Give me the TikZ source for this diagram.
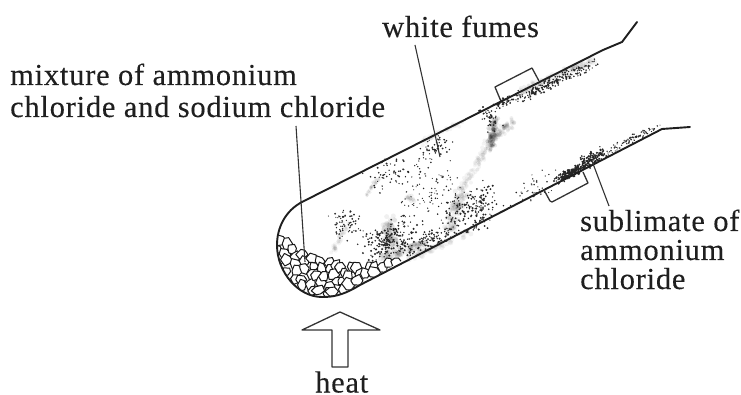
\documentclass[tikz,border=0pt]{standalone}
\usepackage{fontspec}
\setmainfont[LetterSpace=2.5,FakeBold=0.2]{Liberation Serif}
\tikzset{
  wall/.style={line width=1.9pt,line cap=round,line join=round,black!88},
  clampline/.style={line width=1.3pt,line join=round,black!80},
  leader/.style={line width=1.1pt,black!80},
  lab/.style={anchor=base west,inner sep=0pt,font=\fontsize{30.5}{30.5}\selectfont,black!88},
  cellst/.style={fill=white,draw=black!90,line width=1pt,line join=round},
}
\newcommand\specks[6]{% cx cy along across n radius
  \foreach \i in {1,...,#5}{
    \pgfmathsetmacro\spa{(rand+rand)*#3/2*1.4}
    \pgfmathsetmacro\spb{(rand+rand)*#4/2*1.4}
    \pgfmathsetmacro\spr{#6*(0.7+0.5*rnd)}
    \fill[black!85] ({#1+\spa*0.89+\spb*0.46},{#2-\spa*0.46+\spb*0.89}) circle (\spr pt);
  }}
\newcommand\smear[8]{% x1 y1 x2 y2 n radius opacity spread
  \foreach \i in {1,...,#5}{
    \pgfmathsetmacro\smt{rnd}
    \pgfmathsetmacro\smx{#1+(#3-#1)*\smt+#8*(rand+rand)/2}
    \pgfmathsetmacro\smy{#2+(#4-#2)*\smt+#8*(rand+rand)/2}
    \fill[black,opacity=#7] (\smx,\smy) circle (#6 pt);
  }}
\newcommand\cv[1]{({\cx+(3.5+4*rnd)*cos(#1)},{\cy+(3.5+4*rnd)*sin(#1)})}
\begin{document}
\begin{tikzpicture}[x=1pt,y=-1pt]
\pgfmathsetseed{4711}
\useasboundingbox (0,0) rectangle (741,395);
\fill[white] (0,0) rectangle (741,395);
% grey smears
\smear{513}{122}{492}{137}{80}{2}{.06}{5}
\smear{495}{120}{490}{148}{90}{2}{.09}{5}
\smear{492}{137}{462}{190}{90}{2}{.045}{5}
\smear{462}{190}{450}{232}{80}{2.5}{.06}{7}
\smear{388}{222}{392}{250}{80}{2.5}{.06}{8}
\smear{380}{258}{425}{245}{80}{2.5}{.06}{5}
\smear{378}{178}{366}{196}{30}{1.8}{.06}{2.5}
\smear{348}{222}{332}{252}{40}{2}{.04}{4}
\smear{408}{195}{412}{200}{14}{2}{.06}{4}
\smear{520}{92}{592}{60}{130}{2}{.05}{5}
\smear{470}{232}{410}{258}{50}{2.5}{.05}{4}
\smear{422}{142}{462}{122}{40}{2}{.04}{4}
% specks
\specks{390}{240}{24}{13}{190}{1}
\specks{430}{240}{28}{7}{100}{.95}
\specks{475}{208}{26}{17}{180}{.95}
\specks{395}{172}{24}{13}{55}{.9}
\specks{428}{192}{26}{26}{100}{.75}
\specks{345}{225}{14}{15}{65}{.85}
\specks{435}{147}{13}{8}{50}{.9}
\specks{490}{118}{8}{14}{45}{.9}
\specks{505}{101}{14}{3.5}{50}{.9}
\specks{548}{85}{32}{4}{150}{.95}
\specks{585}{69}{18}{3.5}{35}{.8}
\specks{572}{172}{15}{3.5}{190}{1.05}
\specks{592}{158}{12}{5}{120}{.95}
\specks{630}{140}{26}{3}{90}{.75}
\specks{535}{186}{24}{10}{40}{.75}
% gravel, clipped by the tube
\begin{scope}
  \clip (302,202) .. controls (285,211) and (277,228) .. (277,245)
        .. controls (277,272) and (298,297) .. (322,297)
        .. controls (332,297) and (342,296) .. (360,285) -- (420,250) -- (420,200) -- cycle;
  \foreach \x/\t/\b/\n in {279/238/262/2,287/240/274/3,295/244/284/4,303/250/290/4,311/254/294/4,319/257/296/4,327/259/296/4,335/261/294/3,343/262/291/3,351/264/287/2,359/265/283/2,367/264/279/1,375/266/274/1,383/263/270/0,391/260/266/0,399/258/262/0}{
    \foreach \k in {0,...,\n}{
      \pgfmathsetmacro\cx{\x+3*rand}
      \pgfmathsetmacro\cy{\t+(\k+.5)*(\b-\t)/(\n+1)+2*rand}
      \filldraw[cellst] \cv{0} -- \cv{60} -- \cv{120} -- \cv{180} -- \cv{240} -- \cv{300} -- cycle;
    }
  }
\end{scope}
% tube
\draw[wall] (302,202) .. controls (285,211) and (277,228) .. (277,245)
      .. controls (277,272) and (298,297) .. (322,297)
      .. controls (332,297) and (342,296) .. (360,285) -- (662,129) -- (690,127);
\draw[wall] (302,202) -- (603,50) -- (622,42) -- (637,22);
% clamp
\draw[clampline] (500,99) -- (495,87) -- (532,68) -- (539,81);
\draw[clampline] (544,190) -- (550,201) -- (552,202) -- (588,183) -- (583,172);
% labels
\node[lab] (fumes) at (382,37) {white fumes};
\node[lab] (mixa) at (10,85) {mixture of ammonium};
\node[lab] (mixb) at (10,117) {chloride and sodium chloride};
\node[lab] (suba) at (580,231) {sublimate of};
\node[lab] (subb) at (580,260) {ammonium};
\node[lab] (subc) at (580,289) {chloride};
\node[lab] (heat) at (315,392.5) {heat};
% leaders
\coordinate (fumesEnd) at (440,157);
\coordinate (fumesTop) at (415,45);
\coordinate (mixEnd) at (305,262);
\coordinate (mixTop) at (296,126);
\coordinate (subEnd) at (592,161);
\coordinate (subTop) at (609,206);
\draw[leader] (fumesTop) -- (fumesEnd);
\draw[leader] (mixTop) -- (mixEnd);
\draw[leader] (subEnd) -- (subTop);
% heat arrow
\draw[clampline] (332,367) -- (332,330) -- (302,330) -- (340,312) -- (380,330) -- (348,330) -- (348,367) -- cycle;
\end{tikzpicture}
\end{document}
